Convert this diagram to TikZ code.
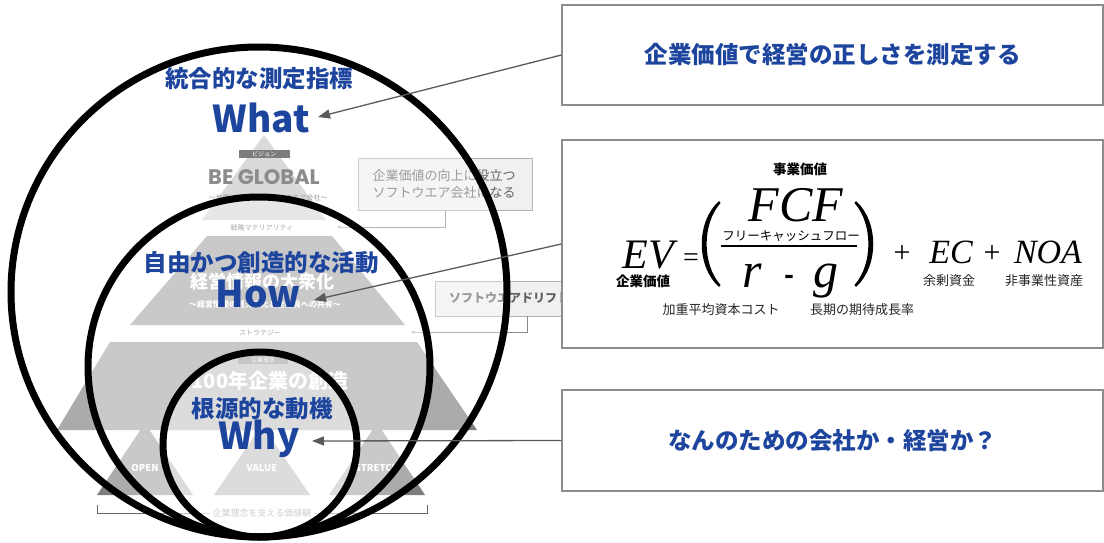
\documentclass[tikz,border=0pt]{standalone}
\usepackage{fontspec}
\usetikzlibrary{arrows.meta}
\newfontfamily\jp{Noto Sans CJK JP}
\newfontfamily\geo{Poppins}
\newfontfamily\tms{Liberation Serif}
\definecolor{blu}{HTML}{1D459E}
\definecolor{bord}{HTML}{8C8C8C}
\definecolor{arrc}{HTML}{5A5A5A}
\definecolor{pyrtop}{HTML}{C6C6C6}
\definecolor{pyrc}{HTML}{7D7D7D}
\definecolor{labdark}{HTML}{333333}
\definecolor{begc}{HTML}{4B4B4B}
\definecolor{gtxt}{HTML}{626262}
\definecolor{gboxfill}{HTML}{F0F0F0}
\definecolor{gboxline}{HTML}{B1B1B1}
\definecolor{brkc}{HTML}{8A8A8A}
\tikzset{
  ring/.style={draw=black, line width=7pt},
  fade/.style={fill=white, fill opacity=0.36},
  bluejp/.style={text=blu, inner sep=0pt, font=\jp\bfseries\fontsize{23.5}{26}\selectfont},
  bigword/.style={text=blu, inner sep=0pt, anchor=base, font=\jp\bfseries\fontsize{37}{40}\selectfont},
  rbox/.style={draw=bord, line width=1.4pt, fill=white, minimum width=541pt, inner sep=0pt},
  boxtxt/.style={text=blu, font=\jp\bfseries\fontsize{23.5}{26}\selectfont},
  conn/.style={draw=arrc, line width=1.3pt, -{Triangle[length=12pt,width=9pt]}},
  darklabel/.style={fill=labdark, text=white, inner sep=0pt, minimum height=8pt, font=\jp\fontsize{6}{7}\selectfont},
  bandtxt/.style={text=labdark, inner sep=0pt, font=\jp\fontsize{7}{8}\selectfont},
  whtxt/.style={text=white, inner sep=0pt, font=\jp\bfseries\fontsize{#1}{#1}\selectfont},
  trilab/.style={text=white, inner sep=0pt, font=\jp\bfseries\fontsize{9.5}{10}\selectfont},
  gbox/.style={fill=gboxfill, draw=gboxline, line width=0.8pt, inner sep=0pt},
  gboxtxt/.style={text=gtxt, inner sep=0pt, align=center, font=\jp\fontsize{13}{16.5}\selectfont},
  brk/.style={draw=brkc, line width=0.8pt},
  fit/.style={inner sep=0pt, anchor=base, font=\tms\itshape\fontsize{#1}{#1}\selectfont},
  fup/.style={inner sep=0pt, anchor=base, font=\tms\fontsize{#1}{#1}\selectfont},
  fjpb/.style={inner sep=0pt, font=\jp\bfseries\fontsize{13.5}{14}\selectfont},
  fjp/.style={inner sep=0pt, text=black!85, font=\jp\fontsize{13}{14}\selectfont}
}
\begin{document}
\begin{tikzpicture}[x=1pt,y=-1pt]
\useasboundingbox (0,0) rectangle (1104,543);
\fill[white] (0,0) rectangle (1104,543);

% ---------------- faded pyramid ----------------
\fill[pyrtop] (264,135) -- (326,220) -- (202,220) -- cycle;
\node[darklabel, minimum width=51pt] (vislab) at (264,154) {ビジョン};
\node[inner sep=0pt, text=begc, font=\geo\bfseries\fontsize{21}{22}\selectfont] (beglobal) at (264,177) {BE GLOBAL};
\node[inner sep=0pt, text=gtxt, font=\jp\fontsize{7}{8}\selectfont] (vissub) at (268,198) {〜世界に通用するソフトウエア会社〜};
\node[bandtxt] (mat) at (262,228) {戦略マテリアリティ};

\fill[pyrc] (207,236) -- (332,236) -- (405,325) -- (130,325) -- cycle;
\node[whtxt=18] (taishu) at (262,282) {経営情報の大衆化};
\node[whtxt=8] (taishusub) at (265,304) {〜経営情報の見える化と全社員への共有〜};
\node[bandtxt] (strat) at (260,333) {ストラテジー};

\fill[pyrc] (110,342) -- (417,342) -- (477,430) -- (57,430) -- cycle;
\node[darklabel, fill=labdark!70!black, minimum width=50pt] (rinenlab) at (263,360) {企業理念};
\node[whtxt=20] (hyaku) at (270,381) {100年企業の創造};

\fill[pyrc] (145,423) -- (193,495) -- (97,495) -- cycle;
\fill[pyrc] (262,425) -- (310,495) -- (214,495) -- cycle;
\fill[pyrc] (377,423) -- (425,495) -- (329,495) -- cycle;
\node[trilab] (open) at (145,468) {OPEN};
\node[trilab] (value) at (262,468) {VALUE};
\node[trilab] (stretch) at (377,468) {STRETCH};

\draw[draw=black!60, line width=1pt] (97,505) -- (97,513) -- (427,513) -- (427,505);
\node[fill=white, inner xsep=3pt, inner ysep=1pt, text=black!70, font=\jp\fontsize{9}{10}\selectfont] (values) at (262,513) {企業理念を支える価値観};

\node[gbox, minimum width=174pt, minimum height=52pt] (visbox) at (445,184) {};
\node[gboxtxt] (vistxt) at (444,184) {企業価値の向上に役立つ\\ソフトウエア会社になる};
\coordinate (matarrow) at (337,227);
\draw[brk, -{Stealth[length=4pt,width=3pt]}] (visbox.south) |- (matarrow);

\node[gbox, minimum width=184pt, minimum height=35pt] (driftbox) at (527,298.5) {};
\node[inner sep=0pt, anchor=west, text=gtxt, font=\jp\bfseries\fontsize{12}{13}\selectfont] (drift) at (449,298) {ソフトウエアドリフト};
\coordinate (stratarrow) at (411,332);
\draw[brk, -{Stealth[length=4pt,width=3pt]}] (driftbox.south) |- (stratarrow);

% ---------------- ellipses ----------------
\fill[fade] (259,292) ellipse [x radius=248, y radius=245];
\fill[fade] (259,367) ellipse [x radius=171, y radius=170];
\fill[fade] (260,444.5) ellipse [x radius=97, y radius=92.5];
\draw[ring] (259,292) ellipse [x radius=248, y radius=245];
\draw[ring] (259,367) ellipse [x radius=171, y radius=170];
\draw[ring] (260,444.5) ellipse [x radius=97, y radius=92.5];

% ---------------- blue labels ----------------
\node[bluejp] (whatjp) at (259,79) {統合的な測定指標};
\node[bigword] (what) at (261,132) {What};
\node[bluejp] (howjp) at (261,263) {自由かつ創造的な活動};
\node[bigword] (how) at (258,307) {How};
\node[bluejp] (whyjp) at (262,409) {根源的な動機};
\node[bigword] (why) at (259,449) {Why};

% ---------------- right boxes ----------------
\node[rbox, minimum height=100pt, boxtxt] (box1) at (832.5,55) {企業価値で経営の正しさを測定する};
\node[rbox, minimum height=208pt] (box2) at (832.5,244) {};
\node[rbox, minimum height=101pt, boxtxt] (box3) at (832.5,440.5) {なんのための会社か・経営か？};

% formula
\node[fjpb] (jigyo) at (800,169) {事業価値};
\node[fit=50] (fcf) at (796,221) {FCF};
\node[inner sep=0pt, font=\jp\fontsize{12.5}{13}\selectfont] (fcfjp) at (791,236) {フリーキャッシュフロー};
\draw[line width=2pt] (721,246) -- (857,246);
\node[fit=50] (rr) at (752,287) {r};
\node[inner sep=0pt, anchor=base, font=\jp\bfseries\fontsize{26}{26}\selectfont] (minus) at (789,284) {-};
\node[fit=50] (gg) at (826,287) {g};
\fill (719,201) .. controls (696,222) and (696,266) .. (719,287) -- (720.5,285) .. controls (702,264) and (702,224) .. (720.5,203) -- cycle;
\fill (856,201) .. controls (879,222) and (879,266) .. (856,287) -- (854.5,285) .. controls (873,264) and (873,224) .. (854.5,203) -- cycle;
\node[fit=42] (ev) at (648,268) {EV};
\node[fup=28] (eq) at (691,266) {=};
\node[fjpb] (kigyo) at (643,281) {企業価値};
\node[fup=30] (plus1) at (902,262) {+};
\node[fit=34] (ec) at (951,263) {EC};
\node[fup=30] (plus2) at (992,262) {+};
\node[fit=34] (noa) at (1048,263) {NOA};
\node[fjp] (yojo) at (949,281) {余剰資金};
\node[fjp] (hijigyo) at (1044,281) {非事業性資産};
\node[fjp] (wacc) at (721,310) {加重平均資本コスト};
\node[fjp] (growth) at (862,310) {長期の期待成長率};

% ---------------- connectors ----------------
\coordinate (whattip) at (318,117);
\coordinate (howtip) at (314,300);
\coordinate (whytip) at (312,441);
\draw[conn] (box1.west) -- (whattip);
\draw[conn] (box2.west) -- (howtip);
\draw[conn] (box3.west) -- (whytip);
\end{tikzpicture}
\end{document}
